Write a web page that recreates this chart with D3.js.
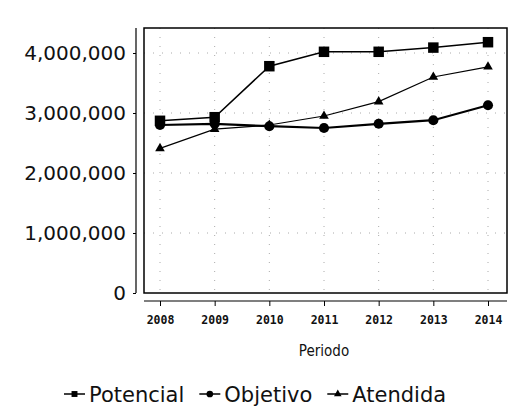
<!DOCTYPE html>
<html><head><meta charset="utf-8">
<script src="https://cdn.jsdelivr.net/npm/d3@7"></script>
<style>body{margin:0;background:#fff}svg{display:block}</style>
</head><body><svg id="c" width="514" height="406"></svg>
<script>
const years = ["2008","2009","2010","2011","2012","2013","2014"];
const potencial = [2870000,2930000,3780000,4020000,4020000,4090000,4180000];
const objetivo = [2800000,2820000,2780000,2750000,2820000,2880000,3130000];
const atendida = [2410000,2730000,2800000,2950000,3190000,3600000,3770000];
const yTicks = [0,1000000,2000000,3000000,4000000];
const seriesNames = ["Potencial","Objetivo","Atendida"];

const svg = d3.select("#c");
const box = {l:144, r:507, t:28, b:293};
const x = d3.scalePoint().domain(years).range([160,488]);
const y = d3.scaleLinear().domain([0,4000000]).range([293,53]);
const fmt = d3.format(",");

// grid
const g = svg.append("g");
g.selectAll(".gx").data(years).enter().append("line")
  .attr("x1",d=>x(d)).attr("x2",d=>x(d)).attr("y1",box.t).attr("y2",box.b)
  .attr("stroke","#aaa").attr("stroke-width",1).attr("stroke-dasharray","1,8");
g.selectAll(".gy").data(yTicks.slice(1)).enter().append("line")
  .attr("x1",box.l).attr("x2",box.r).attr("y1",d=>y(d)).attr("y2",d=>y(d))
  .attr("stroke","#aaa").attr("stroke-width",1).attr("stroke-dasharray","1,8");

// plot box
svg.append("rect").attr("x",box.l).attr("y",box.t).attr("width",box.r-box.l).attr("height",box.b-box.t)
  .attr("fill","none").attr("stroke","#000").attr("stroke-width",1.5);

// y axis
const ya = svg.append("g").attr("transform","translate(136,0)")
  .call(d3.axisLeft(y).tickValues(yTicks).tickFormat(fmt).tickSize(3).tickPadding(7));
ya.select(".domain").attr("d","M0,"+box.t+"V"+box.b).attr("stroke-width",1.2);
ya.selectAll("text").attr("font-family","DejaVu Sans").attr("font-size",20).attr("fill","#111");

// x axis
const xa = svg.append("g").attr("transform","translate(0,301)")
  .call(d3.axisBottom(x).tickSize(5).tickPadding(10));
xa.select(".domain").attr("d","M"+box.l+",0H"+box.r).attr("stroke-width",1.2);
xa.selectAll("text").attr("font-family","DejaVu Sans Mono").attr("font-weight","bold").attr("font-size",11.5).attr("fill","#111");

svg.append("text").attr("x",x("2011")).attr("y",356).attr("text-anchor","middle")
  .attr("font-family","DejaVu Sans Condensed").attr("font-size",15).attr("fill","#111").text("Periodo");

const line = d3.line().x((d,i)=>x(years[i])).y(d=>y(d));
const data = [potencial, objetivo, atendida];
const symbols = [d3.symbolSquare, d3.symbolCircle, d3.symbolTriangle];
const sizes = [110, 80, 40];
const widths = [1.5, 2.2, 1.2];
data.forEach((s,k)=>{
  svg.append("path").datum(s).attr("d",line).attr("fill","none").attr("stroke","#000").attr("stroke-width",widths[k]);
  svg.selectAll(".m"+k).data(s).enter().append("path")
    .attr("transform",(d,i)=>"translate("+x(years[i])+","+y(d)+")")
    .attr("d",d3.symbol().type(symbols[k]).size(sizes[k])).attr("fill","#000");
});

// legend
let lx = 64;
seriesNames.forEach((n,k)=>{
  const lg = svg.append("g").attr("transform","translate("+lx+",394)");
  lg.append("line").attr("x1",0).attr("x2",21).attr("y1",0).attr("y2",0).attr("stroke","#000").attr("stroke-width",1.5);
  lg.append("path").attr("transform","translate(10.5,0)").attr("d",d3.symbol().type(symbols[k]).size(k===2?25:35)).attr("fill","#000");
  const t = lg.append("text").attr("x",25).attr("y",8).attr("font-family","DejaVu Sans").attr("font-size",21).attr("fill","#111").text(n);
  lx += 25 + t.node().getComputedTextLength() + 15;
});
</script></body></html>
